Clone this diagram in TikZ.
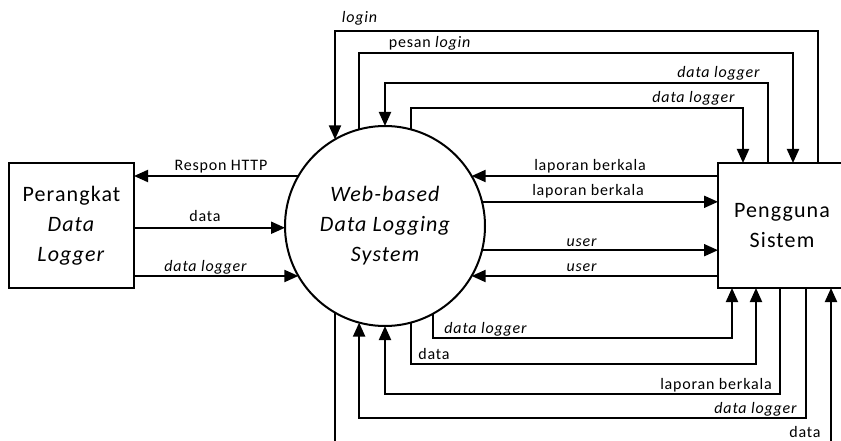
\documentclass[tikz,border=0pt]{standalone}
\usepackage{fontspec}
\setmainfont{Carlito}[LetterSpace=5.0]
\usetikzlibrary{arrows.meta,calc}
\begin{document}
\begin{tikzpicture}[x=1pt,y=-1pt,
  line width=2pt,
  arr/.style={-{Triangle[length=14pt,width=12pt]}},
  lbl/.style={anchor=base,inner sep=0pt,font=\fontsize{16}{19}\selectfont},
  entity/.style={draw,rectangle,minimum height=125pt,align=center,inner sep=0pt,outer sep=0pt,font=\fontsize{22}{30}\selectfont},
  proc/.style={draw,circle,minimum size=200pt,inner sep=0pt,outer sep=0pt,align=center,font=\fontsize{22}{30}\selectfont\itshape}]
\useasboundingbox (0,0) rectangle (841,441);
% nodes
\node[entity,minimum width=125pt] (lb) at (71.5,225.5) {Perangkat\\\textit{Data}\\\textit{Logger}};
\node[entity,minimum width=128pt] (rb) at (782,225.5) {Pengguna\\Sistem};
\node[proc] (c) at (385,226) {Web-based\\Data Logging\\System};
% ports on the user box
\coordinate (T1) at ($(rb.north west)+(25,0)$);
\coordinate (T2) at ($(rb.north west)+(50,0)$);
\coordinate (T3) at ($(rb.north west)+(75,0)$);
\coordinate (T4) at ($(rb.north west)+(100,0)$);
\coordinate (B1) at ($(rb.south west)+(14,0)$);
\coordinate (B2) at ($(rb.south west)+(38,0)$);
\coordinate (B3) at ($(rb.south west)+(62,0)$);
\coordinate (B4) at ($(rb.south west)+(88,0)$);
\coordinate (B5) at ($(rb.south west)+(113,0)$);
% levels
\coordinate (L1) at (0,31);
\coordinate (L2) at (0,53);
\coordinate (L3) at (0,83);
\coordinate (L4) at (0,108);
\coordinate (M1) at (0,338);
\coordinate (M2) at (0,364);
\coordinate (M3) at (0,394);
\coordinate (M4) at (0,418);
\coordinate (bot) at (0,446);
% left connectors
\draw[arr] (c.150) -- (c.150 -| lb.east);
\draw[arr] (c.181 -| lb.east) -- (c.181);
\draw[arr] (c.210 -| lb.east) -- (c.210);
% right connectors
\draw[arr] (c.30 -| rb.west) -- (c.30);
\draw[arr] (c.14) -- (c.14 -| rb.west);
\draw[arr] (c.346) -- (c.346 -| rb.west);
\draw[arr] (c.330 -| rb.west) -- (c.330);
% top connectors
\draw[arr] (T4) |- (L1 -| c.120) -- (c.120);
\draw[arr] (c.105) |- (L2 -| T3) -- (T3);
\draw[arr] (T2) |- (L3 -| c.90) -- (c.90);
\draw[arr] (c.75) |- (L4 -| T1) -- (T1);
% bottom connectors
\draw[arr] (c.299) |- (M1 -| B1) -- (B1);
\draw[arr] (c.285) |- (M2 -| B2) -- (B2);
\draw[arr] (B3) |- (M3 -| c.270) -- (c.270);
\draw[arr] (B4) |- (M4 -| c.255) -- (c.255);
\draw (c.240) -- (c.240 |- bot);
\draw[arr] (B5 |- bot) -- (B5);
% labels
\node[lbl] (l1) at (360,23) {\textit{login}};
\node[lbl] (l2) at (430,48) {pesan \textit{login}};
\node[lbl] (l3) at (719,78) {\textit{data logger}};
\node[lbl] (l4) at (694,103) {\textit{data logger}};
\node[lbl] (l5) at (221,171) {Respon HTTP};
\node[lbl] (l6) at (205,221) {data};
\node[lbl] (l7) at (206,271) {\textit{data logger}};
\node[lbl] (l8) at (590,171) {laporan berkala};
\node[lbl] (l9) at (588,196) {laporan berkala};
\node[lbl] (l10) at (582,246) {\textit{user}};
\node[lbl] (l11) at (582,271) {\textit{user}};
\node[lbl] (l12) at (486,333) {\textit{data logger}};
\node[lbl] (l13) at (434,359) {data};
\node[lbl] (l14) at (716,389) {laporan berkala};
\node[lbl] (l15) at (756,413) {\textit{data logger}};
\node[lbl] (l16) at (805,437) {data};
\end{tikzpicture}
\end{document}
